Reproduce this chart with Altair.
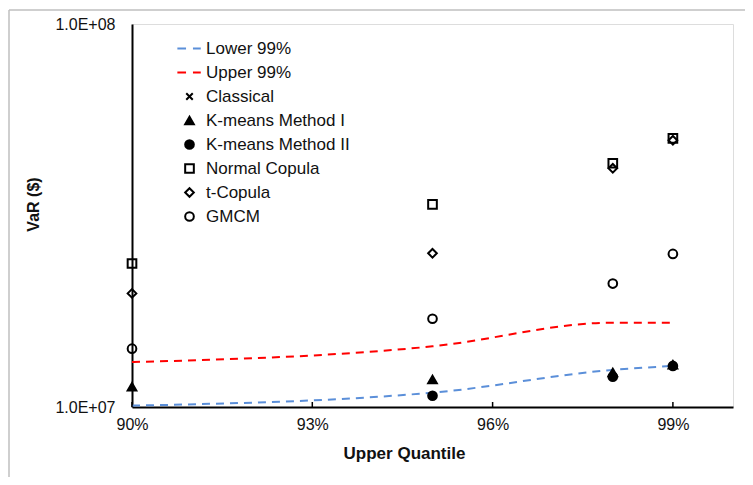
import altair as alt
import pandas as pd

# ---- data ----
quantiles = [0.90, 0.95, 0.98, 0.99]
lower_99 = [1.008e7, 1.09e7, 1.25e7, 1.28e7]
upper_99 = [1.31e7, 1.44e7, 1.66e7, 1.66e7]

classical_q = [0.95, 0.98, 0.99]
classical = [1.07e7, 1.20e7, 1.28e7]
kmeans1_q = [0.90, 0.95, 0.98, 0.99]
kmeans1 = [1.13e7, 1.18e7, 1.23e7, 1.29e7]
kmeans2_q = [0.95, 0.98, 0.99]
kmeans2 = [1.07e7, 1.20e7, 1.28e7]
normal_q = [0.90, 0.95, 0.98, 0.99]
normal_copula = [2.37e7, 3.38e7, 4.33e7, 5.03e7]
t_q = [0.90, 0.95, 0.98, 0.99]
t_copula = [1.98e7, 2.52e7, 4.20e7, 4.97e7]
gmcm_q = [0.90, 0.95, 0.98, 0.99]
gmcm = [1.42e7, 1.70e7, 2.10e7, 2.51e7]

x_ticks = [0.90, 0.93, 0.96, 0.99]
y_ticks = [1e7, 1e8]

series = ["Lower 99%", "Upper 99%", "Classical", "K-means Method I",
          "K-means Method II", "Normal Copula", "t-Copula", "GMCM"]
stroke_colors = ["#5b8fd9", "#ff0000", "black", "black", "black", "black", "black", "black"]
fill_colors = ["transparent", "transparent", "transparent", "black", "black",
               "transparent", "transparent", "transparent"]
dash_path = "M-2.8,0L-0.8,0M0.8,0L2.6,0"
x_path = "M-0.75,-0.75L0.75,0.75M-0.75,0.75L0.75,-0.75"
shapes = [dash_path, dash_path, x_path, "triangle-up", "circle", "square", "diamond", "circle"]

# ---- tables ----
lines_df = pd.DataFrame(
    {"q": quantiles * 2,
     "v": lower_99 + upper_99,
     "series": ["Lower 99%"] * len(quantiles) + ["Upper 99%"] * len(quantiles)}
)

rows = []
for name, qs, vs in [("Classical", classical_q, classical),
                     ("K-means Method I", kmeans1_q, kmeans1),
                     ("K-means Method II", kmeans2_q, kmeans2),
                     ("Normal Copula", normal_q, normal_copula),
                     ("t-Copula", t_q, t_copula),
                     ("GMCM", gmcm_q, gmcm)]:
    for q, v in zip(qs, vs):
        rows.append({"q": q, "v": v, "series": name})
points_df = pd.DataFrame(rows)
ticks_df = pd.DataFrame({"q": x_ticks})

x_scale = alt.Scale(domain=[0.90, 1.00], nice=False, zero=False)
y_scale = alt.Scale(type="log", domain=[1e7, 1e8], nice=False)

x_axis = alt.Axis(values=x_ticks, format=".0%", ticks=False, grid=False,
                  labelFontSize=16, labelColor="#111", labelPadding=9,
                  labelFont="Liberation Sans", labelFlush=False,
                  domainColor="black", domainWidth=2,
                  title="Upper Quantile", titleFontSize=17, titleFontWeight="bold",
                  titleFont="Liberation Sans", titleColor="#111",
                  titleX=272, titleY=46, titleAlign="center", titleBaseline="middle")
y_axis = alt.Axis(values=y_ticks, ticks=False, grid=False,
                  labelExpr="'1.0E+0' + round(log(datum.value) / LN10)",
                  labelFontSize=16, labelColor="#111", labelPadding=17,
                  labelFont="Liberation Sans", labelFlush=False,
                  domainColor="black", domainWidth=2,
                  title="VaR ($)", titleFontSize=16, titleFontWeight="bold",
                  titleFont="Liberation Sans", titleColor="#111",
                  titleX=-99, titleY=180, titleAlign="center", titleBaseline="middle")

stroke_scale = alt.Scale(domain=series, range=stroke_colors)
fill_scale = alt.Scale(domain=series, range=fill_colors)
shape_scale = alt.Scale(domain=series, range=shapes)

legend = alt.Legend(title=None, orient="none", legendX=49, legendY=16, padding=0,
                    labelFontSize=17, labelFont="Liberation Sans", labelColor="#111",
                    labelOffset=8, symbolSize=75, symbolStrokeWidth=2,
                    rowPadding=6, labelLimit=300)

lines = alt.Chart(lines_df).mark_line(strokeWidth=2, strokeDash=[8, 6],
                                      interpolate="monotone").encode(
    x=alt.X("q:Q", scale=x_scale, axis=x_axis),
    y=alt.Y("v:Q", scale=y_scale, axis=y_axis),
    stroke=alt.Stroke("series:N", scale=stroke_scale, legend=legend),
    detail="series:N",
)

points = alt.Chart(points_df).mark_point(strokeWidth=2, size=75, opacity=1,
                                         clip=False).encode(
    x=alt.X("q:Q", scale=x_scale, axis=x_axis),
    y=alt.Y("v:Q", scale=y_scale, axis=y_axis),
    shape=alt.Shape("series:N", scale=shape_scale, legend=legend),
    stroke=alt.Stroke("series:N", scale=stroke_scale, legend=legend),
    fill=alt.Fill("series:N", scale=fill_scale, legend=legend),
)

tick_marks = alt.Chart(ticks_df).mark_rule(color="black", strokeWidth=1.5).encode(
    x=alt.X("q:Q", scale=x_scale, axis=x_axis),
    y=alt.value(383),
    y2=alt.value(378),
)

frame_df = pd.DataFrame({"a": [0]})
frame_top = alt.Chart(frame_df).mark_rule(color="#bfbfbf", strokeWidth=1.5, clip=False).encode(
    x=alt.value(-123), x2=alt.value(625), y=alt.value(-14)
)
frame_left = alt.Chart(frame_df).mark_rule(color="#bfbfbf", strokeWidth=1.5, clip=False).encode(
    x=alt.value(-123), y=alt.value(-14), y2=alt.value(470)
)

chart = alt.layer(frame_top, frame_left, lines, tick_marks, points).properties(
    width=601, height=383,
    autosize=alt.AutoSizeParams(type="none"),
    padding={"left": 124, "top": 16, "right": 12, "bottom": 70},
).configure_view(stroke="black", strokeWidth=2).configure(background="white")

chart.save("out.html", embed_options={"renderer": "svg", "actions": False})
